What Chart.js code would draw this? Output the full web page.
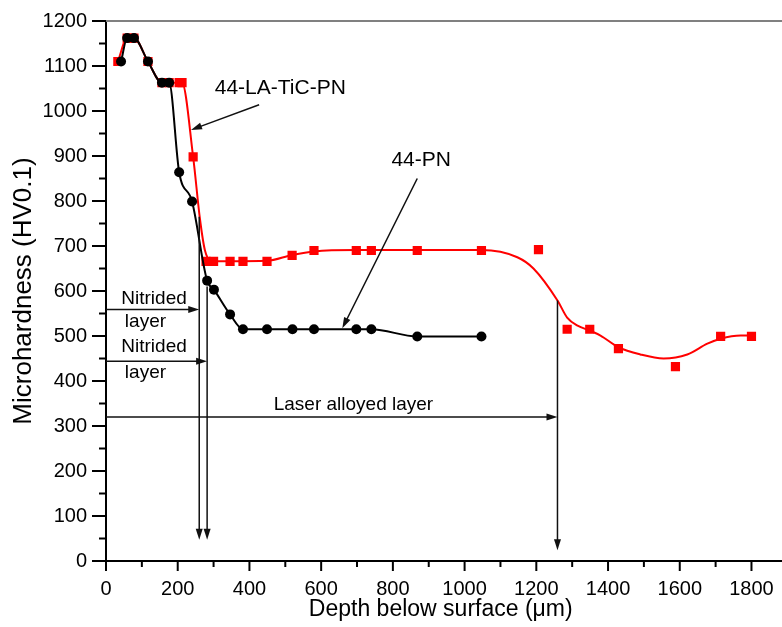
<!DOCTYPE html>
<html>
<head>
<meta charset="utf-8">
<script src="https://cdn.jsdelivr.net/npm/chart.js@4.4.0/dist/chart.umd.min.js"></script>
<style>
  body { margin: 0; background: #fff; }
  canvas { display: block; }
</style>
</head>
<body>
<canvas id="hardnessChart" width="782" height="627"></canvas>
<script>
// 44-PN (black circles)
const pnDepth = [42, 59, 78, 117, 156, 176, 204, 240, 282, 301, 346, 382, 449, 520, 580, 698, 740, 868, 1047];
const pnHardness = [1110, 1162, 1162, 1110, 1063, 1063, 864, 799, 623, 603, 548, 515, 515, 515, 515, 515, 515, 499, 499];

// 44-LA-TiC-PN (red squares)
const laDepth = [33, 59, 78, 117, 156, 176, 204, 212, 243, 279, 300, 346, 382, 449, 519, 580, 698, 740, 868, 1047, 1206, 1286, 1349, 1429, 1588, 1714, 1800];
const laHardness = [1110, 1162, 1162, 1110, 1063, 1063, 1063, 1063, 898, 666, 666, 666, 666, 666, 679, 690, 690, 690, 690, 690, 692, 515, 515, 472, 432, 499, 499];

// smoothed curve drawn through the red points
const fitDepth = [33, 59, 78, 117, 156, 176, 212, 243, 262, 276, 292, 346, 449, 519, 580, 698, 1047, 1147, 1192, 1259, 1286, 1315, 1349, 1379, 1429, 1490, 1555, 1621, 1677, 1714, 1770, 1800];
const fitHardness = [1110, 1162, 1162, 1110, 1063, 1063, 1063, 898, 760, 690, 668, 666, 667, 680, 688, 691, 691, 675, 650, 579, 541, 523, 512, 501, 475, 459, 450, 459, 483, 494, 501, 501];

// axis ranges
const xMax = 1867;
const yMax = 1200;

// annotations (data units)
const layerDepths = [
  { x: 260, top: 765, tip: 47, arrowY: 559 },
  { x: 282, top: 610, tip: 47, arrowY: 444 },
  { x: 1259, top: 579, tip: 24, arrowY: 320 }
];
const pointerArrows = [
  { from: [427, 1014], to: [237, 958] },
  { from: [868, 850], to: [659, 517] }
];
const notes = [
  { text: '44-LA-TiC-PN', x: 486, y: 1051, size: 21 },
  { text: '44-PN', x: 879, y: 890, size: 21 },
  { text: 'Nitrided', x: 134, y: 583, size: 19 },
  { text: 'layer', x: 110, y: 532, size: 19 },
  { text: 'Nitrided', x: 134, y: 475, size: 19 },
  { text: 'layer', x: 110, y: 419, size: 19 },
  { text: 'Laser alloyed layer', x: 690, y: 348, size: 19 }
];

const FONT = "'Liberation Sans', Arial, sans-serif";

const toXY = (xs, ys) => xs.map((v, i) => ({ x: v, y: ys[i] }));

function drawArrow(ctx, x1, y1, x2, y2) {
  const ang = Math.atan2(y2 - y1, x2 - x1);
  const len = 11, half = 3.5;
  ctx.beginPath();
  ctx.moveTo(x1, y1);
  ctx.lineTo(x2 - Math.cos(ang) * len * 0.8, y2 - Math.sin(ang) * len * 0.8);
  ctx.stroke();
  ctx.beginPath();
  ctx.moveTo(x2, y2);
  ctx.lineTo(x2 - Math.cos(ang) * len + Math.sin(ang) * half, y2 - Math.sin(ang) * len - Math.cos(ang) * half);
  ctx.lineTo(x2 - Math.cos(ang) * len - Math.sin(ang) * half, y2 - Math.sin(ang) * len + Math.cos(ang) * half);
  ctx.closePath();
  ctx.fill();
}

const annotations = {
  id: 'annotations',
  afterDraw(chart) {
    const { ctx, chartArea, scales: { x, y } } = chart;
    ctx.save();

    // top frame line, and the x axis running on to the canvas edge
    ctx.strokeStyle = '#808080';
    ctx.lineWidth = 2;
    ctx.beginPath();
    ctx.moveTo(chartArea.left, chartArea.top);
    ctx.lineTo(chart.width, chartArea.top);
    ctx.stroke();
    ctx.strokeStyle = '#000';
    ctx.beginPath();
    ctx.moveTo(chartArea.right - 1, chartArea.bottom);
    ctx.lineTo(chart.width, chartArea.bottom);
    ctx.stroke();

    // tick marks (major / minor)
    ctx.strokeStyle = '#000';
    ctx.lineWidth = 2;
    x.ticks.forEach(t => {
      const px = x.getPixelForValue(t.value);
      const len = t.value % 200 === 0 ? 10 : 6;
      ctx.beginPath();
      ctx.moveTo(px, chartArea.bottom);
      ctx.lineTo(px, chartArea.bottom + len);
      ctx.stroke();
    });
    y.ticks.forEach(t => {
      const py = y.getPixelForValue(t.value);
      const len = t.value % 100 === 0 ? 14 : 7;
      ctx.beginPath();
      ctx.moveTo(chartArea.left - len, py);
      ctx.lineTo(chartArea.left, py);
      ctx.stroke();
    });

    // layer depth markers
    ctx.strokeStyle = '#111';
    ctx.fillStyle = '#111';
    ctx.lineWidth = 1.5;
    layerDepths.forEach(d => {
      const px = x.getPixelForValue(d.x);
      drawArrow(ctx, px, y.getPixelForValue(d.top), px, y.getPixelForValue(d.tip));
      drawArrow(ctx, x.getPixelForValue(0), y.getPixelForValue(d.arrowY), px, y.getPixelForValue(d.arrowY));
    });
    pointerArrows.forEach(a => {
      drawArrow(ctx, x.getPixelForValue(a.from[0]), y.getPixelForValue(a.from[1]),
        x.getPixelForValue(a.to[0]), y.getPixelForValue(a.to[1]));
    });

    // text labels
    ctx.fillStyle = '#000';
    ctx.textAlign = 'center';
    ctx.textBaseline = 'middle';
    notes.forEach(n => {
      ctx.font = n.size + 'px ' + FONT;
      ctx.fillText(n.text, x.getPixelForValue(n.x), y.getPixelForValue(n.y));
    });
    ctx.restore();
  }
};

new Chart(document.getElementById('hardnessChart'), {
  type: 'line',
  data: {
    datasets: [
      {
        label: '44-PN',
        data: toXY(pnDepth, pnHardness),
        borderColor: '#000',
        backgroundColor: '#000',
        borderWidth: 2,
        pointRadius: 5,
        pointBorderWidth: 0,
        pointStyle: 'circle',
        cubicInterpolationMode: 'monotone'
      },
      {
        label: '44-LA-TiC-PN fit',
        data: toXY(fitDepth, fitHardness),
        borderColor: '#ff0000',
        borderWidth: 2,
        pointRadius: 0,
        cubicInterpolationMode: 'monotone'
      },
      {
        label: '44-LA-TiC-PN',
        data: toXY(laDepth, laHardness),
        showLine: false,
        borderColor: '#ff0000',
        backgroundColor: '#ff0000',
        pointStyle: 'rect',
        pointRadius: 6.5,
        pointBorderWidth: 0
      }
    ]
  },
  options: {
    responsive: false,
    animation: false,
    layout: { padding: { top: 21, right: 0, left: 0, bottom: 0 } },
    plugins: { legend: { display: false }, tooltip: { enabled: false } },
    scales: {
      x: {
        type: 'linear',
        min: 0,
        max: xMax,
        afterBuildTicks: s => { s.ticks = s.ticks.filter(t => t.value <= 1800 && t.value % 100 === 0); },
        afterFit: s => { s.height = 66; s.paddingLeft = 0; s.paddingRight = 0; },
        border: { display: true, color: '#000', width: 2 },
        grid: { display: false, drawTicks: false },
        ticks: {
          stepSize: 100,
          includeBounds: false,
          autoSkip: false,
          maxRotation: 0,
          padding: 16,
          color: '#000',
          font: { family: FONT, size: 20 },
          callback: v => (v % 200 === 0 ? v : '')
        },
        title: {
          display: true,
          text: 'Depth below surface (μm)',
          color: '#000',
          font: { family: FONT, size: 23 },
          padding: { top: 0, bottom: 4 }
        }
      },
      y: {
        min: 0,
        max: yMax,
        afterFit: s => { s.width = 106; s.paddingTop = 0; s.paddingBottom = 0; },
        border: { display: true, color: '#000', width: 2 },
        grid: { display: false, drawTicks: false },
        ticks: {
          stepSize: 50,
          autoSkip: false,
          padding: 19,
          color: '#000',
          font: { family: FONT, size: 20 },
          callback: v => (v % 100 === 0 ? v : '')
        },
        title: {
          display: true,
          text: 'Microhardness (HV0.1)',
          color: '#000',
          font: { family: FONT, size: 26 },
          padding: { top: 8, bottom: 0 }
        }
      }
    }
  },
  plugins: [annotations]
});
</script>
</body>
</html>
